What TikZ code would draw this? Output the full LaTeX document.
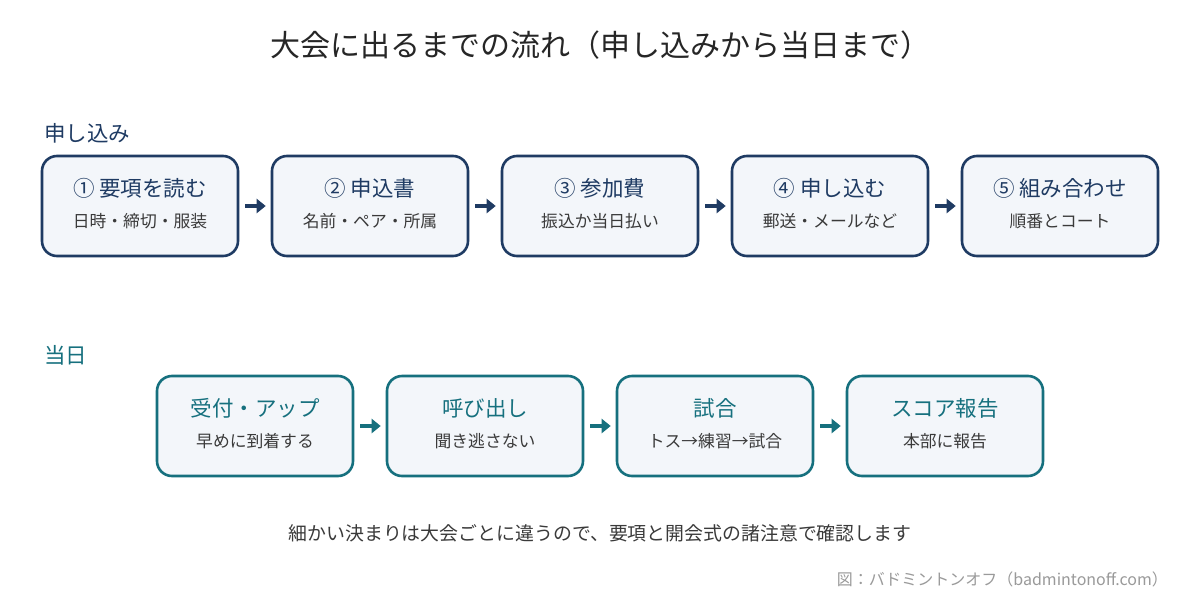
\documentclass[tikz,border=0pt]{standalone}
\usepackage{fontspec}
\setmainfont{Noto Sans CJK JP}
\usetikzlibrary{arrows.meta}
\definecolor{navy}{HTML}{1F3B63}
\definecolor{teal2}{HTML}{16707E}
\definecolor{boxfill}{HTML}{F3F6FA}
\definecolor{ink}{HTML}{262626}
\definecolor{subink}{HTML}{3A3A3A}
\definecolor{credit}{HTML}{9A9A9A}
\tikzset{
  navybox/.style={draw=navy, line width=2.6pt, fill=boxfill, rounded corners=15pt, minimum width=196pt, minimum height=100pt, inner sep=0pt},
  tealbox/.style={draw=teal2, line width=2.6pt, fill=boxfill, rounded corners=15pt, minimum width=196pt, minimum height=100pt, inner sep=0pt},
  navyarrow/.style={draw=navy, line width=4.5pt, -{Triangle[length=9pt,width=14pt]}, shorten <=6pt, shorten >=5pt},
  tealarrow/.style={draw=teal2, line width=4.5pt, -{Triangle[length=9pt,width=14pt]}, shorten <=6pt, shorten >=5pt},
  maintxt/.style={font=\fontsize{21.5}{25}\selectfont},
  subtxt/.style={font=\fontsize{16.8}{20}\selectfont, text=subink},
}
\begin{document}
\begin{tikzpicture}[x=1pt,y=-1pt]
\useasboundingbox[fill=white] (0,0) rectangle (1200,600);
\node[font=\fontsize{30}{34}\selectfont, text=ink] (title) at (600,45) {大会に出るまでの流れ（申し込みから当日まで）};
\node[font=\fontsize{21.5}{25}\selectfont, text=navy, anchor=west, inner sep=0pt] (lab1) at (44,133) {申し込み};
\node[font=\fontsize{21.5}{25}\selectfont, text=teal2, anchor=west, inner sep=0pt] (lab2) at (44,355) {当日};
% top row
\foreach \i/\x in {1/140,2/370,3/600,4/830,5/1060} {
  \node[navybox] (a\i) at (\x,206) {};
}
\node[maintxt, text=navy] (a1m) at (140,188) {① 要項を読む};
\node[subtxt] (a1s) at (140,221) {日時・締切・服装};
\node[maintxt, text=navy] (a2m) at (370,188) {② 申込書};
\node[subtxt] (a2s) at (370,221) {名前・ペア・所属};
\node[maintxt, text=navy] (a3m) at (600,188) {③ 参加費};
\node[subtxt] (a3s) at (600,221) {振込か当日払い};
\node[maintxt, text=navy] (a4m) at (830,188) {④ 申し込む};
\node[subtxt] (a4s) at (830,221) {郵送・メールなど};
\node[maintxt, text=navy] (a5m) at (1060,188) {⑤ 組み合わせ};
\node[subtxt] (a5s) at (1060,221) {順番とコート};
\foreach \i/\j in {1/2,2/3,3/4,4/5} { \draw[navyarrow] (a\i.east) -- (a\j.west); }
% bottom row
\foreach \i/\x in {1/255,2/485,3/715,4/945} {
  \node[tealbox] (b\i) at (\x,426) {};
}
\node[maintxt, text=teal2] (b1m) at (255,408) {受付・アップ};
\node[subtxt] (b1s) at (255,441) {早めに到着する};
\node[maintxt, text=teal2] (b2m) at (485,408) {呼び出し};
\node[subtxt] (b2s) at (485,441) {聞き逃さない};
\node[maintxt, text=teal2] (b3m) at (715,408) {試合};
\node[subtxt] (b3s) at (715,441) {トス→練習→試合};
\node[maintxt, text=teal2] (b4m) at (945,408) {スコア報告};
\node[subtxt] (b4s) at (945,441) {本部に報告};
\foreach \i/\j in {1/2,2/3,3/4} { \draw[tealarrow] (b\i.east) -- (b\j.west); }
\node[font=\fontsize{18.9}{22}\selectfont, text=subink] (note) at (600,533) {細かい決まりは大会ごとに違うので、要項と開会式の諸注意で確認します};
\node[font=\fontsize{16}{19}\selectfont, text=credit, anchor=east, inner sep=0pt] (cred) at (1168,579) {図：バドミントンオフ（badmintonoff.com）};
\end{tikzpicture}
\end{document}
